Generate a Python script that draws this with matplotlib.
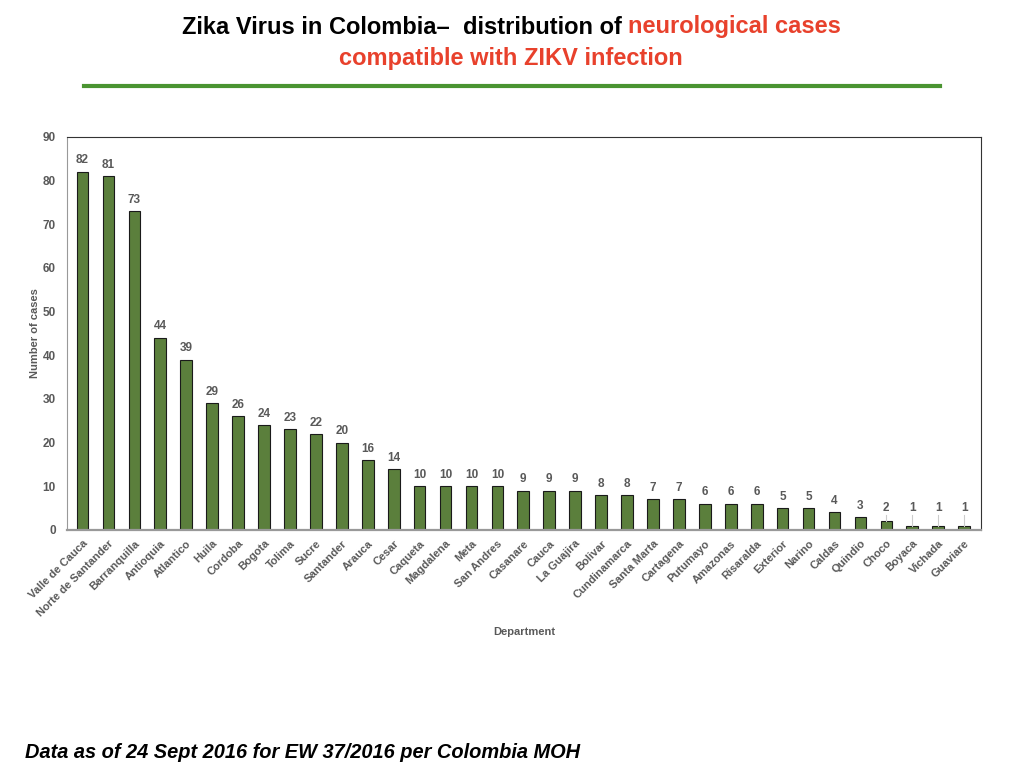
import matplotlib.pyplot as plt
import numpy as np

departments = ["Valle de Cauca", "Norte de Santander", "Barranquilla", "Antioquia",
               "Atlantico", "Huila", "Cordoba", "Bogota", "Tolima", "Sucre",
               "Santander", "Arauca", "Cesar", "Caqueta", "Magdalena", "Meta",
               "San Andres", "Casanare", "Cauca", "La Guajira", "Bolivar",
               "Cundinamarca", "Santa Marta", "Cartagena", "Putumayo", "Amazonas",
               "Risaralda", "Exterior", "Narino", "Caldas", "Quindio", "Choco",
               "Boyaca", "Vichada", "Guaviare"]
cases = [82, 81, 73, 44, 39, 29, 26, 24, 23, 22, 20, 16, 14, 10, 10, 10, 10,
         9, 9, 9, 8, 8, 7, 7, 6, 6, 6, 5, 5, 4, 3, 2, 1, 1, 1]

plt.rcParams['font.family'] = ['Liberation Sans', 'DejaVu Sans']
gray = "#595959"

fig = plt.figure(figsize=(10.24, 7.68), dpi=100)
ax = fig.add_axes([0.0654, 0.310, 0.8926, 0.512])

x = np.arange(len(departments))
ax.bar(x, cases, width=0.45, color="#5b7f3c", edgecolor="#1a1a1a", linewidth=0.8)

# value labels; tiny bars get their label lifted with a faint leader line
for xi, v in zip(x, cases):
    ly = max(v + 1.2, 3.6)
    if ly - v > 1.3:
        ax.plot([xi, xi], [v, ly - 0.1], color="#cccccc", lw=0.8)
    ax.text(xi, ly, str(v), ha="center", va="bottom", fontsize=8.5,
            fontweight="bold", color=gray)

ax.set_xlim(-0.6, len(departments) - 0.35)
ax.set_ylim(0, 90)
ax.set_yticks(range(0, 91, 10))
ax.set_xticks(x)
ax.set_xticklabels(departments, rotation=45, ha="right", rotation_mode="anchor")
ax.tick_params(axis="both", length=0, labelcolor=gray, pad=6)
ax.tick_params(axis="x", labelsize=8)
ax.tick_params(axis="y", labelsize=8.5, pad=8)
for lab in ax.get_xticklabels() + ax.get_yticklabels():
    lab.set_fontweight("bold")

ax.spines["left"].set_color("#999999")
ax.spines["bottom"].set_color("#999999")
ax.spines["bottom"].set_linewidth(1.6)
ax.spines["top"].set_color("#333333")
ax.spines["right"].set_color("#333333")
ax.spines["top"].set_linewidth(0.8)
ax.spines["right"].set_linewidth(0.8)

ax.set_ylabel("Number of cases", fontsize=8, fontweight="bold", color=gray, labelpad=2)
fig.text(0.512, 1 - 632 / 768, "Department", ha="center", va="center",
         fontsize=8, fontweight="bold", color=gray)

# title, two colours on the first line
red = "#e8412c"
fig.text(622 / 1024, 1 - 27 / 768, "Zika Virus in Colombia\u2013  distribution of",
         ha="right", va="center", fontsize=17, fontweight="bold", color="black")
fig.text(628 / 1024, 1 - 27 / 768, "neurological cases",
         ha="left", va="center", fontsize=17, fontweight="bold", color=red)
fig.text(511 / 1024, 1 - 59 / 768, "compatible with ZIKV infection",
         ha="center", va="center", fontsize=17, fontweight="bold", color=red)
fig.add_artist(plt.Line2D([84 / 1024, 940 / 1024], [1 - 86 / 768, 1 - 86 / 768],
                          color="#4a9431", lw=3))

fig.text(25 / 1024, 1 - 752 / 768, "Data as of 24 Sept 2016 for EW 37/2016 per Colombia MOH",
         ha="left", va="center", fontsize=14.4, fontweight="bold", style="italic", color="black")

fig.savefig("out.png", dpi=100)
